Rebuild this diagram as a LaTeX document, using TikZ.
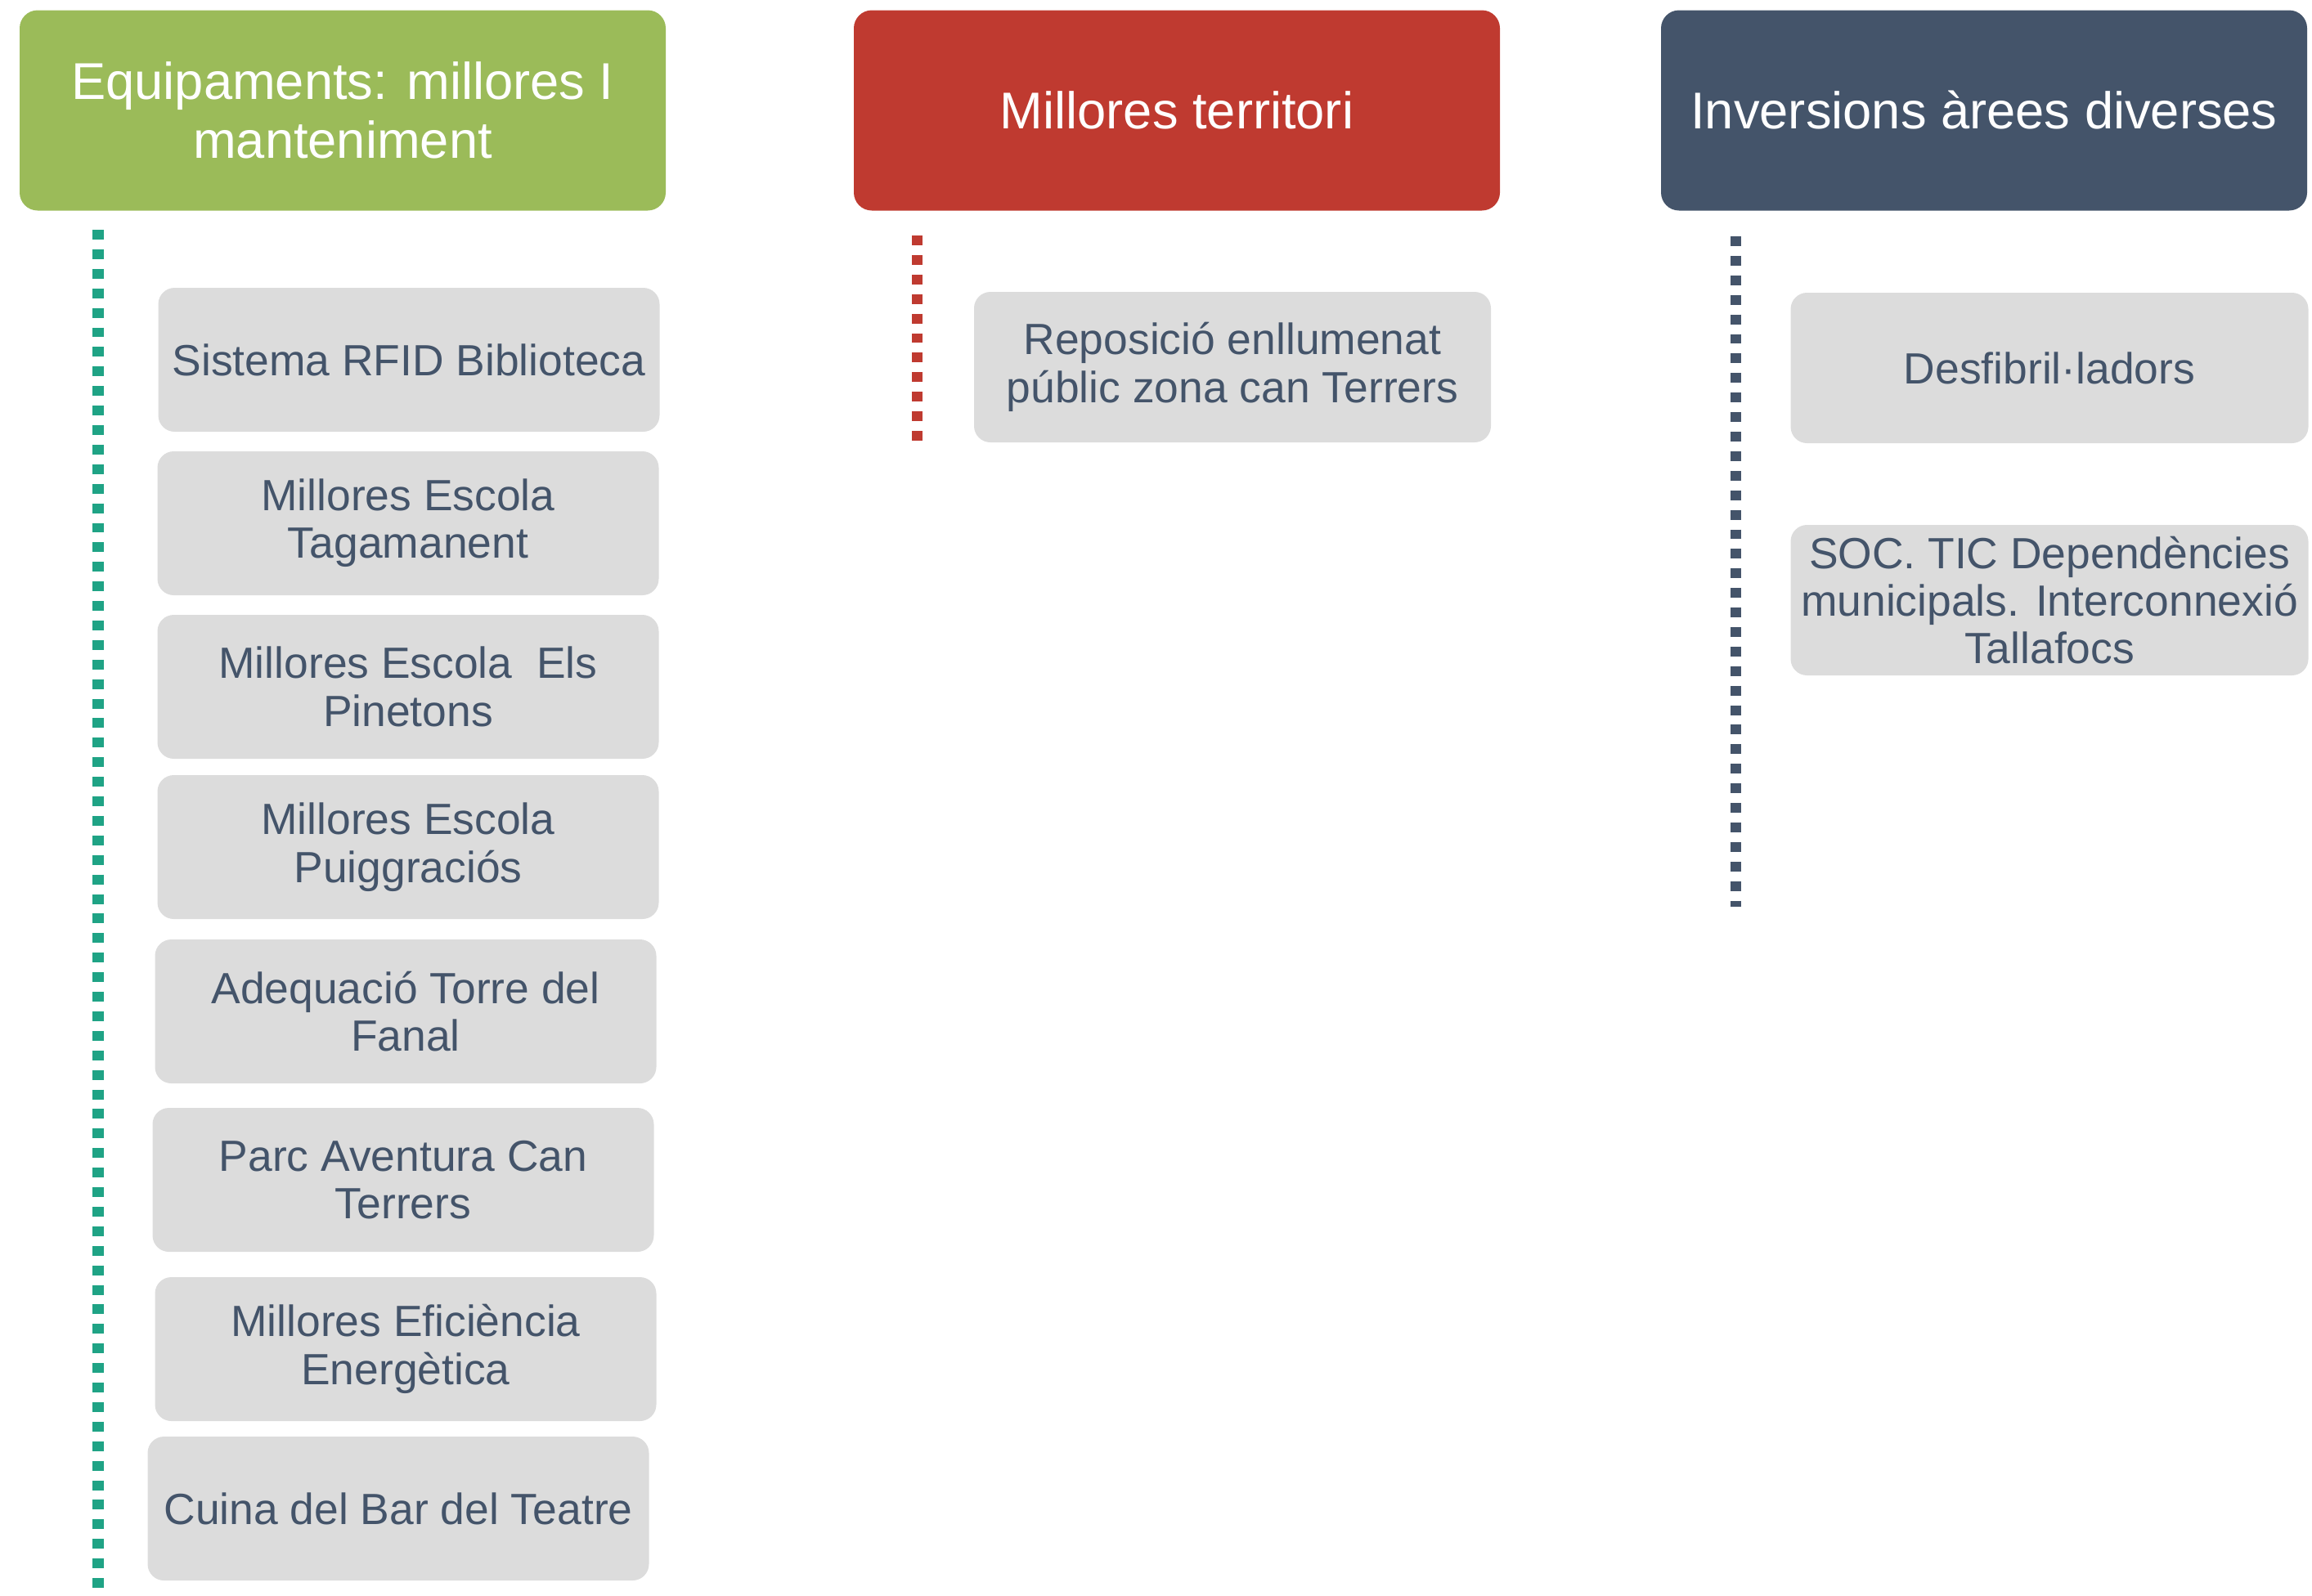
\documentclass[tikz,border=0pt]{standalone}
\usepackage{fontspec}
\setmainfont{Liberation Sans}
\definecolor{hdgreen}{HTML}{9BBB59}
\definecolor{hdred}{HTML}{BF3A30}
\definecolor{hdblue}{HTML}{44546A}
\definecolor{dotgreen}{HTML}{1FA385}
\definecolor{itemgray}{HTML}{DCDCDC}

\begin{document}
\begin{tikzpicture}[
    head/.style={rectangle,rounded corners=0.22cm,minimum width=7.9cm,minimum height=2.45cm,
      align=center,text=white,font=\fontsize{18}{20.5}\selectfont},
    item/.style={rectangle,rounded corners=0.2cm,fill=itemgray,minimum width=6.13cm,minimum height=1.76cm,
      align=center,text=hdblue,inner sep=1pt,font=\fontsize{15.2}{16.6}\selectfont},
    dots/.style={line width=3.7pt,dash pattern=on 3.4pt off 3.4pt}]
          \useasboundingbox (0,0) rectangle (28.27,-19.51);
          \node[head,fill=hdgreen] (Equip) at (4.19,-1.35) {Equipaments: millores I\\manteniment};
          \node[head,fill=hdred] (Terr) at (14.39,-1.35) {Millores territori};
          \node[head,fill=hdblue] (Inv) at (24.26,-1.35) {Inversions àrees diverses};
          % equipaments
          \node[item] (Rfid) at (5.00,-4.40) {Sistema RFID Biblioteca};
          \node[item] (Taga) at (4.99,-6.40) {Millores Escola\\Tagamanent};
          \node[item] (Pine) at (4.99,-8.40) {Millores Escola\ \ Els\\Pinetons};
          \node[item] (Puig) at (4.99,-10.36) {Millores Escola\\Puiggraciós};
          \node[item] (Fanal) at (4.96,-12.37) {Adequació Torre del\\Fanal};
          \node[item] (Parc) at (4.93,-14.43) {Parc Aventura Can\\Terrers};
          \node[item] (Efic) at (4.96,-16.50) {Millores Eficiència\\Energètica};
          \node[item] (Cuina) at (4.87,-18.45) {Cuina del Bar del Teatre};
          % territori
          \node[item,minimum width=6.32cm,minimum height=1.84cm] (Llum) at (15.07,-4.49) {Reposició enllumenat\\públic zona can Terrers};
          % arees diverses
          \node[item,minimum width=6.33cm,minimum height=1.84cm] (Desf) at (25.06,-4.50) {Desfibril·ladors};
          \node[item,minimum width=6.33cm,minimum height=1.84cm] (Soc) at (25.06,-7.34) {SOC. TIC Dependències\\municipals. Interconnexió\\Tallafocs};
          \coordinate (EqTop) at (1.20,-2.81);
          \coordinate (EqEnd) at (1.20,-19.51);
          \coordinate (TeTop) at (11.215,-2.88);
          \coordinate (TeEnd) at (11.215,-5.39);
          \coordinate (InTop) at (21.22,-2.89);
          \coordinate (InEnd) at (21.22,-11.09);
          \draw[dots,dotgreen] (EqTop) -- (EqEnd);
          \draw[dots,hdred] (TeTop) -- (TeEnd);
          \draw[dots,hdblue] (InTop) -- (InEnd);
        \end{tikzpicture}
\end{document}
